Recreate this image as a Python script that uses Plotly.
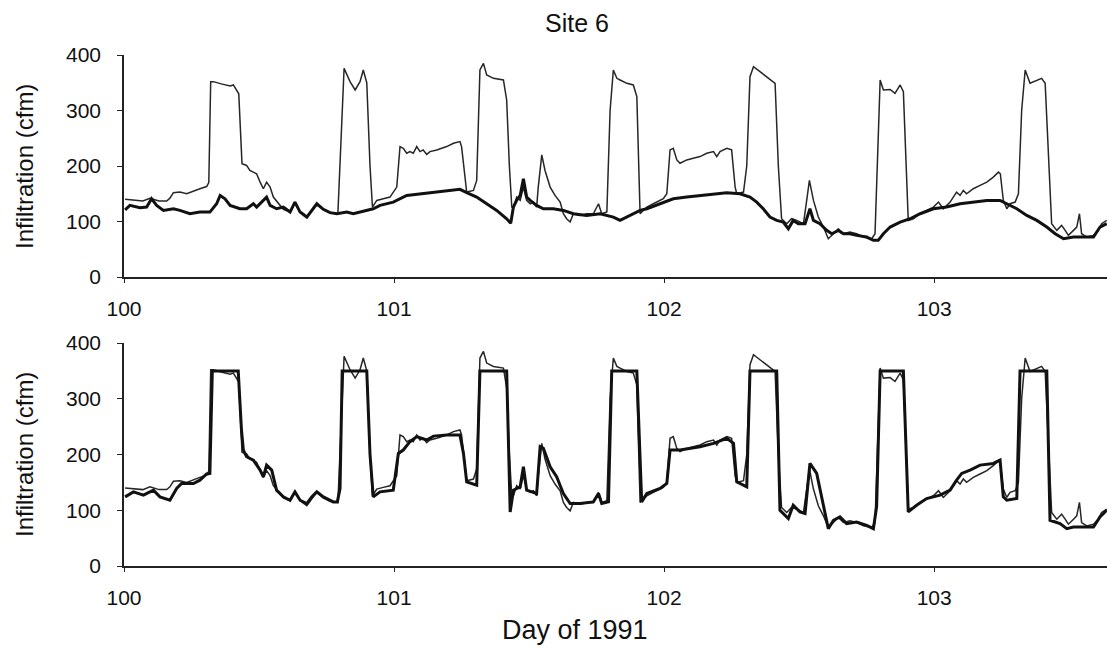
import plotly.graph_objects as go

# ---- data ----
measured_day = [100.004, 100.035, 100.070, 100.096, 100.130, 100.158, 100.170, 100.183, 100.207, 100.232,
                100.257, 100.281, 100.306, 100.314, 100.321, 100.331, 100.360, 100.393, 100.405, 100.417,
                100.425, 100.437, 100.454, 100.466, 100.479, 100.491, 100.504, 100.516, 100.528, 100.541,
                100.553, 100.578, 100.590, 100.615, 100.633, 100.652, 100.677, 100.695, 100.714, 100.738,
                100.763, 100.792, 100.815, 100.837, 100.856, 100.874, 100.886, 100.899, 100.911, 100.920,
                100.936, 100.960, 100.985, 101.010, 101.022, 101.034, 101.047, 101.059, 101.071, 101.084,
                101.096, 101.108, 101.121, 101.133, 101.158, 101.195, 101.220, 101.244, 101.250, 101.269,
                101.294, 101.306, 101.318, 101.331, 101.343, 101.368, 101.405, 101.417, 101.427, 101.436,
                101.442, 101.454, 101.467, 101.479, 101.485, 101.491, 101.504, 101.516, 101.528, 101.534,
                101.547, 101.559, 101.578, 101.596, 101.615, 101.627, 101.639, 101.652, 101.664, 101.689,
                101.713, 101.738, 101.757, 101.769, 101.788, 101.794, 101.800, 101.812, 101.825, 101.837,
                101.862, 101.886, 101.899, 101.911, 101.923, 101.936, 101.960, 101.985, 101.997, 102.010,
                102.022, 102.034, 102.047, 102.059, 102.084, 102.108, 102.133, 102.158, 102.183, 102.195,
                102.207, 102.232, 102.250, 102.263, 102.269, 102.294, 102.306, 102.318, 102.331, 102.355,
                102.380, 102.404, 102.411, 102.423, 102.435, 102.454, 102.472, 102.491, 102.516, 102.528,
                102.538, 102.553, 102.571, 102.590, 102.608, 102.627, 102.645, 102.664, 102.688, 102.713,
                102.738, 102.769, 102.781, 102.800, 102.812, 102.837, 102.855, 102.874, 102.886, 102.904,
                102.923, 102.948, 102.972, 102.997, 103.016, 103.034, 103.059, 103.071, 103.083, 103.096,
                103.108, 103.120, 103.145, 103.170, 103.195, 103.219, 103.238, 103.245, 103.256, 103.269,
                103.281, 103.300, 103.312, 103.324, 103.337, 103.355, 103.380, 103.398, 103.411, 103.423,
                103.435, 103.454, 103.472, 103.485, 103.497, 103.516, 103.528, 103.538, 103.546, 103.565,
                103.590, 103.608, 103.620, 103.639]
measured_cfm = [140, 138, 137, 142, 137, 137, 142, 152, 153, 150,
                155, 159, 163, 170, 352, 352, 348, 344, 346, 337,
                330, 204, 201, 192, 189, 186, 171, 159, 171, 162,
                144, 129, 122, 117, 135, 117, 108, 120, 132, 122,
                116, 114, 376, 352, 337, 352, 373, 350, 200, 126,
                138, 141, 144, 162, 235, 232, 223, 226, 223, 235,
                226, 229, 221, 226, 229, 235, 241, 244, 235, 153,
                156, 174, 373, 385, 364, 358, 355, 319, 200, 126,
                126, 144, 138, 162, 150, 138, 132, 135, 126, 162,
                220, 192, 162, 147, 135, 114, 105, 99, 114, 111,
                114, 114, 132, 114, 117, 200, 300, 373, 358, 355,
                349, 346, 325, 114, 120, 126, 132, 138, 141, 150,
                229, 232, 211, 205, 211, 214, 217, 223, 226, 217,
                226, 232, 229, 162, 150, 153, 200, 361, 379, 370,
                361, 352, 349, 200, 105, 96, 105, 102, 96, 138,
                174, 138, 108, 90, 69, 78, 87, 78, 81, 78,
                72, 69, 78, 355, 337, 338, 331, 346, 334, 102,
                105, 114, 120, 126, 135, 123, 135, 144, 153, 147,
                156, 150, 159, 165, 171, 180, 189, 186, 138, 123,
                132, 135, 150, 300, 373, 349, 355, 358, 349, 229,
                96, 84, 93, 84, 75, 84, 90, 114, 78, 72,
                75, 84, 96, 102]

base_day = [100.004, 100.022, 100.059, 100.084, 100.102, 100.121, 100.146, 100.183, 100.207, 100.244,
            100.281, 100.318, 100.343, 100.356, 100.374, 100.393, 100.429, 100.454, 100.479, 100.491,
            100.516, 100.528, 100.541, 100.565, 100.590, 100.615, 100.633, 100.652, 100.677, 100.695,
            100.714, 100.738, 100.763, 100.788, 100.825, 100.849, 100.874, 100.899, 100.923, 100.948,
            100.997, 101.047, 101.096, 101.146, 101.195, 101.244, 101.269, 101.306, 101.343, 101.380,
            101.417, 101.432, 101.442, 101.454, 101.467, 101.479, 101.491, 101.504, 101.528, 101.553,
            101.590, 101.627, 101.664, 101.713, 101.763, 101.812, 101.837, 101.862, 101.911, 101.936,
            101.985, 102.034, 102.084, 102.133, 102.183, 102.232, 102.281, 102.318, 102.343, 102.367,
            102.392, 102.417, 102.441, 102.460, 102.478, 102.497, 102.522, 102.540, 102.553, 102.577,
            102.602, 102.621, 102.645, 102.664, 102.688, 102.713, 102.750, 102.775, 102.793, 102.812,
            102.837, 102.874, 102.911, 102.948, 102.997, 103.046, 103.096, 103.145, 103.195, 103.244,
            103.269, 103.306, 103.343, 103.380, 103.417, 103.448, 103.479, 103.516, 103.553, 103.590,
            103.614, 103.639]
base_cfm = [121, 129, 125, 126, 141, 129, 120, 123, 120, 114,
            117, 117, 132, 147, 141, 129, 123, 123, 132, 126,
            138, 144, 129, 123, 126, 117, 135, 117, 108, 120,
            132, 122, 116, 114, 117, 114, 117, 120, 123, 129,
            135, 147, 150, 152, 155, 158, 152, 144, 132, 120,
            105, 97, 126, 138, 147, 177, 144, 138, 129, 123,
            123, 120, 114, 111, 114, 108, 102, 108, 120, 123,
            132, 141, 144, 147, 150, 152, 150, 144, 135, 123,
            108, 102, 99, 87, 102, 96, 96, 123, 102, 96,
            84, 78, 84, 78, 78, 75, 72, 66, 66, 78,
            90, 99, 105, 114, 123, 126, 132, 135, 138, 138,
            132, 123, 111, 102, 90, 78, 69, 72, 72, 72,
            90, 96]

fan_day = [100.004, 100.035, 100.072, 100.109, 100.133, 100.170, 100.195, 100.213, 100.257, 100.281,
           100.306, 100.318, 100.327, 100.423, 100.435, 100.442, 100.454, 100.479, 100.504, 100.516,
           100.528, 100.547, 100.565, 100.590, 100.615, 100.633, 100.652, 100.677, 100.695, 100.714,
           100.738, 100.775, 100.790, 100.800, 100.808, 100.899, 100.911, 100.923, 100.948, 100.997,
           101.016, 101.034, 101.059, 101.084, 101.121, 101.146, 101.195, 101.244, 101.257, 101.269,
           101.306, 101.318, 101.417, 101.430, 101.442, 101.467, 101.479, 101.491, 101.528, 101.541,
           101.553, 101.578, 101.602, 101.627, 101.652, 101.689, 101.738, 101.757, 101.769, 101.794,
           101.806, 101.899, 101.917, 101.936, 101.985, 102.010, 102.022, 102.059, 102.133, 102.183,
           102.232, 102.257, 102.269, 102.306, 102.318, 102.417, 102.429, 102.460, 102.478, 102.503,
           102.522, 102.540, 102.565, 102.583, 102.602, 102.608, 102.627, 102.651, 102.676, 102.713,
           102.750, 102.775, 102.787, 102.800, 102.886, 102.904, 102.935, 102.972, 103.022, 103.059,
           103.083, 103.102, 103.133, 103.170, 103.219, 103.244, 103.256, 103.269, 103.306, 103.318,
           103.417, 103.429, 103.466, 103.491, 103.516, 103.565, 103.590, 103.614, 103.639]
fan_cfm = [124, 133, 127, 136, 124, 118, 139, 148, 148, 154,
           165, 166, 350, 350, 244, 208, 196, 190, 172, 160,
           181, 172, 136, 124, 118, 133, 118, 112, 124, 133,
           124, 115, 115, 139, 350, 350, 200, 124, 133, 136,
           202, 208, 223, 232, 226, 233, 235, 235, 202, 151,
           145, 350, 350, 97, 136, 142, 178, 136, 130, 214,
           211, 178, 160, 130, 112, 112, 115, 130, 112, 115,
           350, 350, 115, 130, 139, 148, 208, 208, 214, 220,
           229, 220, 151, 142, 350, 350, 100, 85, 109, 97,
           94, 184, 166, 124, 76, 67, 82, 88, 76, 79,
           73, 67, 107, 350, 350, 97, 109, 121, 127, 136,
           154, 166, 172, 181, 184, 190, 124, 118, 121, 350,
           350, 82, 76, 67, 70, 70, 70, 88, 100]

x_ticks = [100, 101, 102, 103]
y_ticks = [0, 100, 200, 300, 400]

title_text = "Site 6"
x_title = "Day of 1991"
y_title = "Infiltration (cfm)"

FONT = "Arial, Liberation Sans, sans-serif"
THIN = dict(color="#262626", width=1.5)
THICK = dict(color="#111111", width=3)

fig = go.Figure()
fig.add_trace(go.Scatter(x=measured_day, y=measured_cfm, mode="lines", line=THIN, xaxis="x", yaxis="y"))
fig.add_trace(go.Scatter(x=base_day, y=base_cfm, mode="lines", line=THICK, xaxis="x", yaxis="y"))
fig.add_trace(go.Scatter(x=measured_day, y=measured_cfm, mode="lines", line=THIN, xaxis="x2", yaxis="y2"))
fig.add_trace(go.Scatter(x=fan_day, y=fan_cfm, mode="lines", line=THICK, xaxis="x2", yaxis="y2"))

xax = dict(range=[100, 103.64], tickvals=x_ticks, ticktext=[str(v) for v in x_ticks],
           showline=True, linecolor="#222", linewidth=1.5, ticks="outside", ticklen=4,
           tickcolor="#222", showgrid=False, zeroline=False,
           tickfont=dict(family=FONT, size=21, color="#111"), ticklabelstandoff=8)
yax = dict(range=[0, 400], tickvals=y_ticks, showline=True, linecolor="#222", linewidth=1.5,
           ticks="outside", ticklen=5, tickcolor="#222", showgrid=False, zeroline=False,
           tickfont=dict(family=FONT, size=21, color="#111"), ticklabelstandoff=12)

top_lo = (566 - 277) / 511
bot_hi = (566 - 343) / 511

fig.update_layout(
    width=1107, height=649,
    margin=dict(l=124, r=0, t=55, b=83),
    paper_bgcolor="white", plot_bgcolor="white",
    showlegend=False,
    xaxis=dict(xax, anchor="y"),
    yaxis=dict(yax, domain=[top_lo, 1], anchor="x"),
    xaxis2=dict(xax, anchor="y2"),
    yaxis2=dict(yax, domain=[0, bot_hi], anchor="x2"),
    annotations=[
        dict(text=title_text, x=(577 - 124) / 983, y=(566 - 23) / 511, xref="paper", yref="paper",
             showarrow=False, xanchor="center", yanchor="middle", font=dict(family=FONT, size=25, color="#111")),
        dict(text=x_title, x=(575 - 124) / 983, y=(566 - 630) / 511, xref="paper", yref="paper",
             showarrow=False, xanchor="center", yanchor="middle", font=dict(family=FONT, size=27, color="#111")),
        dict(text=y_title, x=(24 - 124) / 983, y=(566 - 167) / 511, xref="paper", yref="paper",
             showarrow=False, xanchor="center", yanchor="middle", textangle=-90,
             font=dict(family=FONT, size=24, color="#111")),
        dict(text=y_title, x=(24 - 124) / 983, y=(566 - 455) / 511, xref="paper", yref="paper",
             showarrow=False, xanchor="center", yanchor="middle", textangle=-90,
             font=dict(family=FONT, size=24, color="#111")),
    ],
)

fig.write_html("out.html")
